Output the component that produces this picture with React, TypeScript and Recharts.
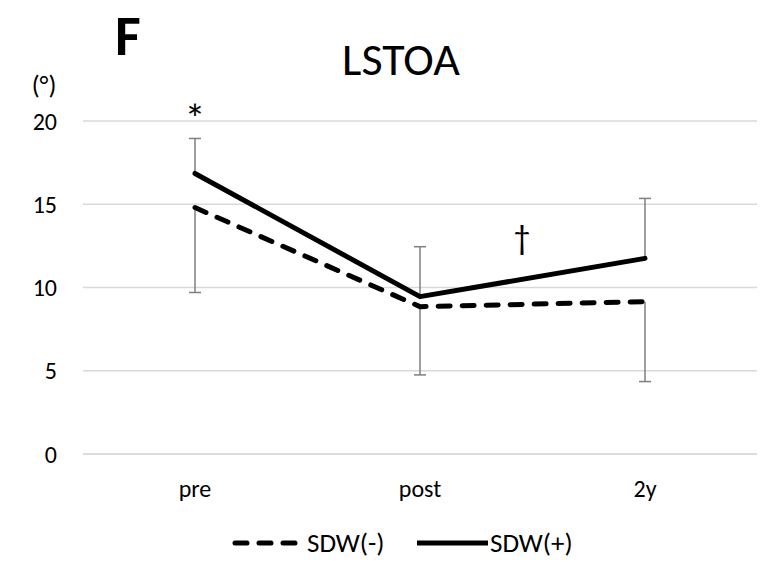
import React from 'react';
import {
  LineChart,
  Line,
  XAxis,
  YAxis,
  CartesianGrid,
  ReferenceLine,
  ReferenceDot,
} from 'recharts';

const categories = ['pre', 'post', '2y'];
const sdwMinus = [14.8, 8.85, 9.15];
const sdwMinusSd = [5.1, 4.1, 4.8];
const sdwPlus = [16.85, 9.45, 11.75];
const sdwPlusSd = [2.1, 3.0, 3.6];
const yTicks = [0, 5, 10, 15, 20];

const FONT = "Calibri, Carlito, 'Open Sans', sans-serif";

const data = categories.map((c, i) => ({
  cat: c,
  minus: sdwMinus[i],
  plus: sdwPlus[i],
}));

const series = [
  { key: 'minus', name: 'SDW(-)', dash: '12 12' },
  { key: 'plus', name: 'SDW(+)', dash: undefined },
];

// whisker drawn from the mean to the end, cap only at the far end
const Whisker = (props: any) => {
  const { x1, y1, x2, y2 } = props;
  return (
    <g>
      <line x1={x1} y1={y1} x2={x2} y2={y2} stroke="#7f7f7f" strokeWidth={1.5} />
      <line x1={x2 - 6} y1={y2} x2={x2 + 6} y2={y2} stroke="#7f7f7f" strokeWidth={1.5} />
    </g>
  );
};

const Mark = (text: string, dx: number, size: number) => (p: any) => (
  <text
    x={p.cx + dx}
    y={p.cy}
    textAnchor="middle"
    dominantBaseline="central"
    fontFamily={FONT}
    fontSize={size}
    fill="#000"
  >
    {text}
  </text>
);

export default function App() {
  return (
    <div style={{ position: 'absolute', left: 0, top: 0, width: 768, height: 578, background: '#fff' }}>
      <LineChart
        width={768}
        height={578}
        data={data}
        margin={{ top: 121, right: 11, bottom: 0, left: 0 }}
      >
        <CartesianGrid vertical={false} stroke="#d9d9d9" strokeWidth={1.3} />
        <XAxis
          dataKey="cat"
          height={124}
          padding={{ left: 112, right: 112 }}
          axisLine={{ stroke: '#d9d9d9', strokeWidth: 1.3 }}
          tickLine={false}
          tickMargin={20}
          tick={{ fill: '#000', fontSize: 24, fontFamily: FONT }}
        />
        <YAxis
          domain={[0, 20]}
          ticks={yTicks}
          width={83}
          axisLine={false}
          tickLine={false}
          tickMargin={20}
          tick={{ fill: '#000', fontSize: 24, fontFamily: FONT }}
        />
        {categories.map((c, i) => (
          <ReferenceLine
            key={'m' + c}
            segment={[
              { x: c, y: sdwMinus[i] },
              { x: c, y: sdwMinus[i] - sdwMinusSd[i] },
            ]}
            shape={Whisker}
          />
        ))}
        {categories.map((c, i) => (
          <ReferenceLine
            key={'p' + c}
            segment={[
              { x: c, y: sdwPlus[i] },
              { x: c, y: sdwPlus[i] + sdwPlusSd[i] },
            ]}
            shape={Whisker}
          />
        ))}
        {series.map((s) => (
          <Line
            key={s.key}
            type="linear"
            dataKey={s.key}
            name={s.name}
            stroke="#000"
            strokeWidth={5}
            strokeDasharray={s.dash}
            strokeLinecap="round"
            strokeLinejoin="round"
            dot={false}
            activeDot={false}
            isAnimationActive={false}
          />
        ))}
        <ReferenceDot x="pre" y={20.15} r={0} ifOverflow="visible" shape={Mark('*', 0, 42)} />
        <ReferenceDot x="post" y={13.0} r={0} ifOverflow="visible" shape={Mark('†', 102, 34)} />
      </LineChart>
      <svg
        width={768}
        height={578}
        style={{ position: 'absolute', left: 0, top: 0, pointerEvents: 'none' }}
        fontFamily={FONT}
      >
        <text x={115} y={55} fontSize={56} fontWeight="bold" fill="#000">F</text>
        <text x={401} y={75} fontSize={46} textAnchor="middle" fill="#000">LSTOA</text>
        <text x={44} y={94} fontSize={26} textAnchor="middle" fill="#000">(°)</text>
        {series.map((s, i) => {
          const x0 = i === 0 ? 235 : 417;
          const x1 = i === 0 ? 297 : 488;
          return (
            <g key={s.key}>
              <line
                x1={x0}
                y1={543}
                x2={x1}
                y2={543}
                stroke="#000"
                strokeWidth={5}
                strokeDasharray={s.dash}
                strokeLinecap={s.dash ? 'round' : 'butt'}
              />
              <text x={i === 0 ? 307 : 490} y={552} fontSize={27} fill="#000">
                {s.name}
              </text>
            </g>
          );
        })}
      </svg>
    </div>
  );
}
